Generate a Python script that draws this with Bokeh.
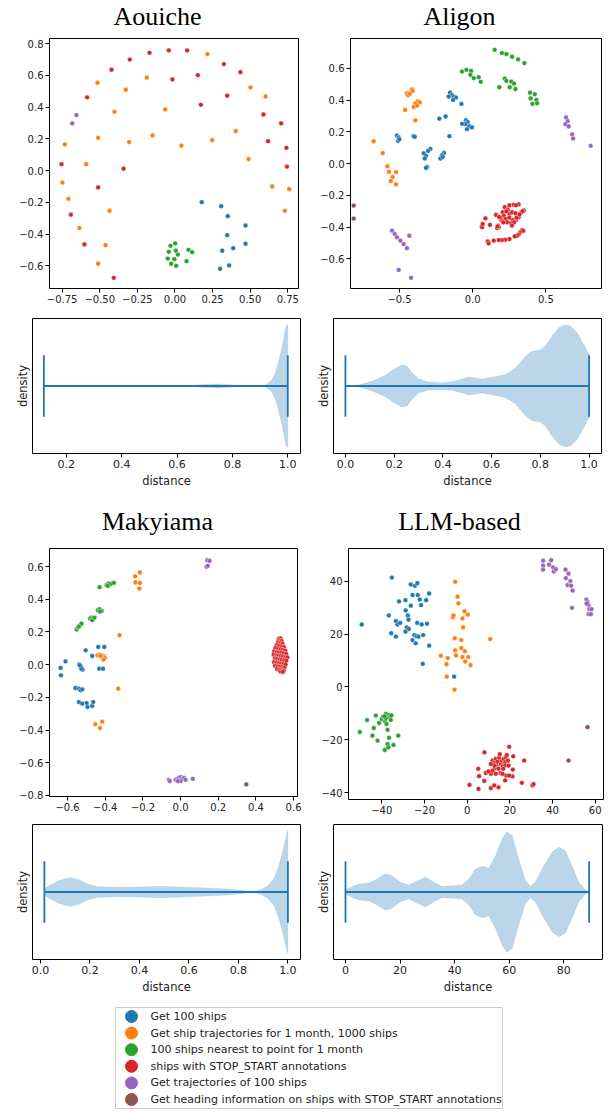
from bokeh.plotting import figure
from bokeh.layouts import column, row
from bokeh.models import FixedTicker, Range1d, ColumnDataSource
from bokeh.core.properties import value
from bokeh.embed import file_html
from bokeh.resources import INLINE

TITLES_TOP = ["Aouiche", "Aligon"]
TITLES_BOTTOM = ["Makyiama", "LLM-based"]
CATEGORIES = [
    "Get 100 ships",
    "Get ship trajectories for 1 month, 1000 ships",
    "100 ships nearest to point for 1 month",
    "ships with STOP_START annotations",
    "Get trajectories of 100 ships",
    "Get heading information on ships with STOP_START annotations",
]
COLORS = ["#1f77b4", "#ff7f0e", "#2ca02c", "#d62728", "#9467bd", "#8c564b"]

# ---------------- Aouiche ----------------
aouiche_blue = [(0.178, -0.199), (0.307, -0.224), (0.351, -0.287), (0.469, -0.346), (0.347, -0.407),
                (0.469, -0.461), (0.387, -0.489), (0.314, -0.505), (0.300, -0.619), (0.360, -0.598)]
aouiche_orange = [(0.216, 0.735), (-0.515, 0.554), (-0.187, 0.586), (-0.327, 0.510), (0.502, 0.525),
                  (-0.402, 0.371), (-0.065, 0.386), (0.602, 0.468), (0.404, 0.249), (-0.511, 0.207),
                  (-0.149, 0.222), (-0.305, 0.180), (0.247, 0.192), (0.043, 0.157), (-0.732, 0.165),
                  (0.489, 0.073), (-0.590, 0.041), (-0.748, -0.075), (0.646, -0.100), (0.759, -0.117),
                  (-0.708, -0.178), (-0.435, -0.253), (0.730, -0.253), (-0.635, -0.362), (-0.462, -0.470),
                  (-0.511, -0.587)]
aouiche_green = [(0.001, -0.459), (-0.030, -0.474), (0.006, -0.505), (-0.041, -0.512), (0.090, -0.499),
                 (0.114, -0.514), (0.019, -0.529), (-0.048, -0.554), (-0.004, -0.558), (0.077, -0.571),
                 (-0.025, -0.587), (0.008, -0.600)]
aouiche_red = [(-0.169, 0.743), (-0.041, 0.758), (0.081, 0.758), (-0.300, 0.700), (-0.422, 0.636),
               (0.325, 0.672), (0.435, 0.621), (-0.017, 0.575), (0.152, 0.602), (-0.584, 0.462),
               (0.347, 0.472), (0.172, 0.415), (0.588, 0.354), (0.706, 0.298), (0.619, 0.186),
               (0.741, 0.144), (-0.754, 0.041), (-0.342, 0.012), (0.744, 0.025), (-0.511, -0.106),
               (-0.692, -0.278), (-0.602, -0.465), (-0.407, -0.676)]
aouiche_purple = [(-0.655, 0.350), (-0.683, 0.298)]
aouiche_brown = []

# ---------------- Aligon ----------------
aligon_blue = [(-0.155, 0.447), (-0.141, 0.432), (-0.164, 0.422), (-0.128, 0.422), (-0.114, 0.416),
               (-0.134, 0.401), (-0.077, 0.376), (-0.228, 0.283), (-0.185, 0.297), (-0.159, 0.173),
               (-0.517, 0.177), (-0.506, 0.165), (-0.510, 0.143), (-0.501, 0.154), (-0.405, 0.173),
               (-0.396, 0.169), (-0.046, 0.274), (-0.034, 0.262), (-0.050, 0.249), (-0.073, 0.251),
               (-0.023, 0.236), (-0.005, 0.228), (-0.039, 0.217), (-0.289, 0.093), (-0.305, 0.080),
               (-0.335, 0.065), (-0.319, 0.049), (-0.328, 0.032), (-0.312, -0.021), (-0.319, -0.027),
               (-0.196, 0.067), (-0.210, 0.053), (-0.221, 0.032), (-0.205, 0.042)]
aligon_orange = [(-0.415, 0.468), (-0.410, 0.458), (-0.451, 0.443), (-0.442, 0.430), (-0.430, 0.440),
                 (-0.462, 0.338), (-0.376, 0.392), (-0.362, 0.386), (-0.392, 0.380), (-0.403, 0.357),
                 (-0.380, 0.365), (-0.392, 0.272), (-0.677, 0.141), (-0.615, 0.066), (-0.583, -0.017),
                 (-0.572, -0.051), (-0.524, -0.053), (-0.547, -0.084), (-0.560, -0.110), (-0.524, -0.131)]
aligon_green = [(0.150, 0.717), (0.200, 0.696), (0.230, 0.690), (0.269, 0.673), (0.310, 0.656),
                (0.353, 0.633), (-0.073, 0.580), (-0.043, 0.591), (-0.011, 0.584), (-0.016, 0.559),
                (0.007, 0.538), (0.041, 0.544), (0.055, 0.515), (0.219, 0.536), (0.230, 0.521),
                (0.264, 0.517), (0.282, 0.504), (0.182, 0.481), (0.253, 0.481), (0.292, 0.470),
                (0.392, 0.447), (0.424, 0.437), (0.396, 0.411), (0.435, 0.401), (0.408, 0.376),
                (0.440, 0.380)]
aligon_red = [(0.087, -0.344), (0.064, -0.390), (0.064, -0.401), (0.068, -0.380), (0.118, -0.386),
              (0.159, -0.323), (0.173, -0.390), (0.178, -0.401), (0.166, -0.405), (0.170, -0.395),
              (0.189, -0.348), (0.205, -0.306), (0.219, -0.274), (0.251, -0.262), (0.280, -0.259),
              (0.314, -0.257), (0.296, -0.262), (0.212, -0.327), (0.223, -0.348), (0.235, -0.369),
              (0.251, -0.316), (0.269, -0.306), (0.292, -0.312), (0.273, -0.354), (0.296, -0.354),
              (0.314, -0.338), (0.333, -0.306), (0.349, -0.295), (0.340, -0.300), (0.337, -0.418),
              (0.326, -0.432), (0.314, -0.447), (0.303, -0.454), (0.287, -0.458), (0.251, -0.475),
              (0.223, -0.479), (0.200, -0.481), (0.178, -0.481), (0.144, -0.485), (0.103, -0.489),
              (0.109, -0.502), (0.346, -0.423), (0.262, -0.375), (0.283, -0.370), (0.268, -0.390),
              (0.200, -0.360), (0.190, -0.340), (0.240, -0.290), (0.230, -0.300), (0.180, -0.335),
              (0.300, -0.340), (0.320, -0.320), (0.210, -0.370), (0.250, -0.340)]
aligon_purple = [(0.638, 0.291), (0.649, 0.268), (0.633, 0.249), (0.656, 0.234), (0.679, 0.184),
                 (0.686, 0.158), (0.806, 0.112), (-0.551, -0.422), (-0.533, -0.443), (-0.517, -0.464),
                 (-0.494, -0.485), (-0.472, -0.506), (-0.449, -0.532), (-0.433, -0.454), (-0.506, -0.669),
                 (-0.421, -0.719)]
aligon_brown = [(-0.813, -0.264), (-0.813, -0.346)]

# ---------------- Makyiama ----------------
makyiama_blue = [(-0.637, -0.020), (-0.635, -0.065), (-0.611, 0.020), (-0.504, 0.088), (-0.469, 0.053),
                 (-0.437, 0.108), (-0.405, 0.108), (-0.432, -0.025), (-0.412, -0.025), (-0.538, 0.002),
                 (-0.531, -0.010), (-0.526, -0.018), (-0.520, -0.031), (-0.527, -0.025), (-0.535, -0.004),
                 (-0.558, -0.143), (-0.540, -0.147), (-0.531, -0.157), (-0.522, -0.151), (-0.540, -0.229),
                 (-0.522, -0.239), (-0.499, -0.235), (-0.494, -0.259), (-0.469, -0.253), (-0.464, -0.229)]
makyiama_orange = [(-0.241, 0.541), (-0.216, 0.564), (-0.239, 0.503), (-0.216, 0.500), (-0.219, 0.466),
                   (-0.324, 0.180), (-0.442, 0.057), (-0.430, 0.061), (-0.418, 0.057), (-0.407, 0.051),
                   (-0.402, 0.041), (-0.409, 0.031), (-0.425, 0.053), (-0.331, -0.147), (-0.453, -0.364),
                   (-0.416, -0.349), (-0.428, -0.388)]
makyiama_green = [(-0.552, 0.215), (-0.545, 0.227), (-0.535, 0.241), (-0.526, 0.251), (-0.540, 0.233),
                  (-0.481, 0.282), (-0.474, 0.288), (-0.464, 0.284), (-0.469, 0.272), (-0.457, 0.288),
                  (-0.439, 0.333), (-0.430, 0.339), (-0.419, 0.329), (-0.428, 0.325), (-0.430, 0.474),
                  (-0.393, 0.486), (-0.382, 0.496), (-0.370, 0.494), (-0.354, 0.501), (-0.386, 0.482)]
makyiama_red = [(0.521, 0.158), (0.530, 0.161), (0.526, 0.147), (0.537, 0.144), (0.517, 0.136),
                (0.529, 0.131), (0.541, 0.127), (0.511, 0.119), (0.523, 0.114), (0.537, 0.111),
                (0.549, 0.107), (0.504, 0.101), (0.518, 0.096), (0.531, 0.093), (0.543, 0.091),
                (0.556, 0.086), (0.497, 0.081), (0.511, 0.077), (0.521, 0.074), (0.535, 0.073),
                (0.547, 0.069), (0.561, 0.066), (0.494, 0.061), (0.508, 0.056), (0.519, 0.054),
                (0.532, 0.051), (0.544, 0.049), (0.557, 0.046), (0.567, 0.044), (0.501, 0.039),
                (0.512, 0.034), (0.525, 0.031), (0.537, 0.029), (0.549, 0.026), (0.561, 0.024),
                (0.496, 0.016), (0.509, 0.011), (0.522, 0.009), (0.534, 0.006), (0.546, 0.004),
                (0.558, 0.001), (0.502, -0.007), (0.516, -0.011), (0.528, -0.012), (0.540, -0.016),
                (0.552, -0.019), (0.513, -0.027), (0.525, -0.031), (0.537, -0.032), (0.548, -0.036),
                (0.531, -0.042), (0.543, -0.044)]
makyiama_purple = [(0.142, 0.639), (0.154, 0.635), (0.138, 0.599), (0.145, 0.605), (-0.062, -0.705),
                   (-0.057, -0.713), (-0.027, -0.705), (-0.018, -0.699), (-0.009, -0.693), (0.000, -0.688),
                   (0.009, -0.699), (0.018, -0.693), (0.000, -0.713), (0.027, -0.705), (0.065, -0.699),
                   (-0.014, -0.713)]
makyiama_brown = [(0.349, -0.733)]

# ---------------- LLM-based ----------------
llm_blue = [(-49.4, 23.6), (-35.3, 41.3), (-36.7, 27.0), (-35.6, 20.3), (-33.4, 19.0), (-33.4, 24.9),
            (-32.7, 23.6), (-31.4, 24.2), (-31.9, 32.3), (-28.9, 32.8), (-28.8, 28.9), (-27.8, 27.0),
            (-27.5, 25.4), (-28.3, 22.5), (-27.3, 21.9), (-28.9, 20.9), (-26.4, 30.7), (-26.4, 38.7),
            (-25.6, 34.7), (-24.5, 38.2), (-23.3, 39.2), (-23.1, 34.7), (-22.2, 33.0), (-21.6, 30.9),
            (-23.4, 24.2), (-21.3, 23.6), (-19.2, 32.8), (-18.8, 23.9), (-17.8, 35.3), (-17.8, 15.6),
            (-24.8, 19.6), (-23.8, 19.2), (-25.6, 17.7), (-24.1, 16.5), (-22.8, 19.0), (-20.6, 19.6),
            (-20.8, 8.7), (-6.1, 3.9)]
llm_orange = [(-5.6, 39.7), (-4.5, 34.1), (-4.1, 31.6), (-6.7, 26.3), (-6.4, 27.0), (-2.2, 25.9),
              (-1.25, 28.6), (0.3, 27.3), (-1.9, 22.5), (-5.8, 18.4), (-2.7, 17.7), (10.8, 18.1),
              (-5.6, 13.8), (-5.2, 11.9), (-2.7, 14.7), (-1.1, 13.5), (-2.2, 11.3), (0.5, 11.3),
              (-0.9, 9.6), (1.6, 8.3), (-12.3, 11.8), (-9.1, 10.9), (-9.7, 8.6), (-9.5, 3.9), (-5.9, -1.0)]
llm_green = [(-50.3, -17.0), (-46.9, -12.5), (-43.75, -15.5), (-44.4, -18.4), (-42.8, -10.8),
             (-42.0, -20.3), (-41.25, -13.6), (-40.0, -12.1), (-39.4, -11.2), (-38.6, -23.8),
             (-38.4, -13.0), (-38.1, -10.2), (-37.8, -14.0), (-37.3, -16.2), (-36.9, -11.2),
             (-36.6, -10.6), (-36.1, -11.4), (-35.8, -12.5), (-37.3, -21.6), (-36.9, -22.8),
             (-36.6, -19.2), (-35.5, -10.7), (-34.5, -21.9), (-32.3, -18.4), (-38.1, -11.8),
             (-38.75, -11.1)]
llm_red = [(8.1, -24.7), (19.7, -22.6), (21.6, -26.2), (26.7, -27.8), (5.2, -30.9), (5.6, -33.7),
           (8.75, -32.5), (11.1, -32.8), (8.0, -35.5), (1.1, -37.0), (5.3, -38.5), (11.1, -38.2),
           (12.7, -37.2), (14.7, -37.9), (17.8, -35.3), (18.3, -33.5), (21.25, -33.8), (21.4, -31.2),
           (25.6, -36.2), (30.6, -37.2), (31.1, -36.7), (11.9, -27.8), (12.7, -28.7), (13.4, -27.2),
           (13.75, -29.7), (14.2, -28.2), (15.0, -26.7), (15.8, -29.1), (16.25, -27.8), (16.6, -30.1),
           (17.2, -27.2), (17.8, -28.4), (18.1, -26.5), (18.6, -25.7), (17.7, -29.7), (13.0, -30.7),
           (14.7, -30.9), (15.6, -32.5), (13.4, -32.8), (16.6, -32.8), (11.9, -31.6), (10.0, -31.9),
           (19.4, -29.7), (19.7, -33.5), (16.9, -30.9), (12.7, -29.7), (11.1, -29.1), (15.3, -25.4),
           (19.1, -27.8)]
llm_purple = [(35.6, 47.7), (35.6, 45.8), (35.6, 44.3), (38.4, 46.2), (39.4, 47.9), (40.3, 45.2),
              (40.6, 43.6), (41.6, 44.5), (46.1, 44.3), (47.5, 42.8), (46.25, 41.1), (48.4, 40.0),
              (47.0, 38.5), (48.75, 38.2), (49.4, 36.4), (49.1, 29.9), (55.9, 33.0), (56.4, 32.0),
              (56.9, 30.9), (57.3, 29.4), (58.3, 29.4), (56.9, 27.5), (58.0, 27.5), (56.0, 31.5)]
llm_brown = [(56.4, -15.2), (47.5, -27.8)]

# ---------------- tick labels ----------------
aouiche_xticks = [-0.75, -0.5, -0.25, 0.0, 0.25, 0.5, 0.75]
aouiche_xlabels = ["\u22120.75", "\u22120.50", "\u22120.25", "0.00", "0.25", "0.50", "0.75"]
aouiche_yticks = [-0.6, -0.4, -0.2, 0.0, 0.2, 0.4, 0.6, 0.8]
aouiche_ylabels = ["\u22120.6", "\u22120.4", "\u22120.2", "0.0", "0.2", "0.4", "0.6", "0.8"]
aligon_xticks = [-0.5, 0.0, 0.5]
aligon_xlabels = ["\u22120.5", "0.0", "0.5"]
aligon_yticks = [-0.6, -0.4, -0.2, 0.0, 0.2, 0.4, 0.6]
aligon_ylabels = ["\u22120.6", "\u22120.4", "\u22120.2", "0.0", "0.2", "0.4", "0.6"]
makyiama_xticks = [-0.6, -0.4, -0.2, 0.0, 0.2, 0.4, 0.6]
makyiama_xlabels = ["\u22120.6", "\u22120.4", "\u22120.2", "0.0", "0.2", "0.4", "0.6"]
makyiama_yticks = [-0.8, -0.6, -0.4, -0.2, 0.0, 0.2, 0.4, 0.6]
makyiama_ylabels = ["\u22120.8", "\u22120.6", "\u22120.4", "\u22120.2", "0.0", "0.2", "0.4", "0.6"]
llm_xticks = [-40, -20, 0, 20, 40, 60]
llm_xlabels = ["\u221240", "\u221220", "0", "20", "40", "60"]
llm_yticks = [-40, -20, 0, 20, 40]
llm_ylabels = ["\u221240", "\u221220", "0", "20", "40"]
unit_ticks = [0.0, 0.2, 0.4, 0.6, 0.8, 1.0]
unit_labels = ["0.0", "0.2", "0.4", "0.6", "0.8", "1.0"]
aouiche_vticks = [0.2, 0.4, 0.6, 0.8, 1.0]
aouiche_vlabels = ["0.2", "0.4", "0.6", "0.8", "1.0"]
llm_vticks = [0, 20, 40, 60, 80]
llm_vlabels = ["0", "20", "40", "60", "80"]

# ---------------- violin profiles (distance, relative half-width) ----------------
aouiche_vdist = [0.119, 0.204, 0.240, 0.276, 0.384, 0.625, 0.685, 0.745, 0.805, 0.901, 0.919, 0.931,
                 0.943, 0.955, 0.967, 0.980, 0.989, 0.995, 1.0]
aouiche_vwidth = [0.004, 0.005, 0.011, 0.005, 0.003, 0.005, 0.022, 0.033, 0.016, 0.005, 0.016, 0.049,
                  0.104, 0.213, 0.404, 0.65, 0.87, 0.98, 1.0]
aligon_vdist = [0.0, 0.055, 0.109, 0.164, 0.198, 0.226, 0.239, 0.253, 0.274, 0.301, 0.342, 0.397, 0.438,
                0.479, 0.506, 0.534, 0.561, 0.602, 0.657, 0.698, 0.739, 0.766, 0.8, 0.821, 0.848, 0.876,
                0.9, 0.923, 0.951, 0.978, 1.0]
aligon_vwidth = [0.005, 0.016, 0.077, 0.175, 0.268, 0.333, 0.344, 0.322, 0.213, 0.115, 0.066, 0.055,
                 0.071, 0.115, 0.148, 0.131, 0.115, 0.142, 0.186, 0.295, 0.486, 0.568, 0.585, 0.65,
                 0.814, 0.951, 0.995, 0.978, 0.869, 0.678, 0.514]
makyiama_vdist = [0.016, 0.040, 0.074, 0.108, 0.128, 0.155, 0.189, 0.229, 0.310, 0.404, 0.485, 0.539,
                  0.647, 0.755, 0.836, 0.863, 0.889, 0.916, 0.943, 0.964, 0.981, 0.995, 1.0]
makyiama_vwidth = [0.049, 0.114, 0.185, 0.223, 0.228, 0.201, 0.13, 0.087, 0.076, 0.082, 0.092, 0.087,
                   0.071, 0.049, 0.016, 0.011, 0.038, 0.092, 0.212, 0.43, 0.70, 0.946, 1.0]
llm_vdist = [0.0, 2.44, 4.89, 8.55, 11.6, 14.66, 17.1, 20.15, 23.2, 26.26, 29.3, 32.4, 35.4, 39.1,
             42.75, 45.2, 47.6, 50.1, 52.5, 55.0, 57.4, 59.2, 61.1, 63.5, 65.95, 67.8, 69.6, 72.06,
             75.7, 78.2, 80.6, 83.05, 85.5, 87.9, 89.3]
llm_vwidth = [0.038, 0.087, 0.13, 0.147, 0.212, 0.293, 0.266, 0.158, 0.114, 0.185, 0.239, 0.158, 0.092,
              0.103, 0.114, 0.212, 0.375, 0.418, 0.386, 0.592, 0.864, 0.984, 0.918, 0.538, 0.185, 0.092,
              0.158, 0.375, 0.647, 0.728, 0.674, 0.429, 0.158, 0.038, 0.005]

TICK_FONT = "DejaVu Sans"
PAGE_W = 611


def style(p, tick_size):
    p.outline_line_color = "black"
    p.outline_line_width = 1
    p.outline_line_alpha = 1
    p.xgrid.visible = False
    p.ygrid.visible = False
    p.background_fill_color = "white"
    for ax in (p.xaxis[0], p.yaxis[0]):
        ax.axis_line_color = None
        ax.major_tick_line_color = "black"
        ax.major_tick_out = 4
        ax.major_tick_in = 0
        ax.minor_tick_line_color = None
        ax.major_label_text_font = TICK_FONT
        ax.major_label_text_font_size = tick_size
        ax.major_label_text_color = "#222222"
        ax.major_label_standoff = 2


def title_strip(titles, height, middle_from_top):
    # a bare strip holding the two column titles (one per panel column)
    p = figure(frame_width=PAGE_W, frame_height=height, min_border=0, x_range=Range1d(0, PAGE_W),
               y_range=Range1d(height, 0), x_axis_location=None, y_axis_location=None,
               output_backend="svg", toolbar_location=None, tools="")
    p.grid.visible = False
    p.outline_line_color = None
    centers = [157, 459]
    p.text(x=centers, y=[middle_from_top] * len(titles), text=titles,
           text_font=value("Liberation Serif"), text_font_size="26px", text_align="center",
           text_baseline="middle", text_color="black")
    return row(p)


def scatter_panel(groups, xr, yr, xt, xl, yt, yl, fw, fh, bl, br, bt, bb):
    p = figure(frame_width=fw, frame_height=fh, min_border_left=bl, min_border_right=br,
               min_border_top=bt, min_border_bottom=bb, x_range=Range1d(*xr), y_range=Range1d(*yr),
               output_backend="svg", toolbar_location=None, tools="")
    style(p, "10px")
    p.xaxis.ticker = FixedTicker(ticks=xt)
    p.xaxis.major_label_overrides = dict(zip(xt, xl))
    p.yaxis.ticker = FixedTicker(ticks=yt)
    p.yaxis.major_label_overrides = dict(zip(yt, yl))
    for pts, col in zip(groups, COLORS):
        if not pts:
            continue
        p.scatter([a for a, b in pts], [b for a, b in pts], size=4.8, fill_color=col,
                  line_color="white", line_width=0.4)
    return p


def violin_panel(dist, width, xr, xt, xl, fw, bl, br, bt, bb):
    p = figure(frame_width=fw, frame_height=135, min_border_left=bl, min_border_right=br,
               min_border_top=bt, min_border_bottom=bb, x_range=Range1d(*xr), y_range=Range1d(-1.1, 1.1),
               output_backend="svg", toolbar_location=None, tools="")
    style(p, "11px")
    p.xaxis.ticker = FixedTicker(ticks=xt)
    p.xaxis.major_label_overrides = dict(zip(xt, xl))
    p.yaxis.ticker = FixedTicker(ticks=[])
    for ax, lab in ((p.xaxis[0], "distance"), (p.yaxis[0], "density")):
        ax.axis_label = lab
        ax.axis_label_text_font = TICK_FONT
        ax.axis_label_text_font_size = "11.5px"
        ax.axis_label_text_font_style = "normal"
        ax.axis_label_text_color = "#222222"
        ax.axis_label_standoff = 3
    xs = list(dist) + list(dist)[::-1]
    ys = list(width) + [-w for w in width][::-1]
    p.patch(xs, ys, fill_color="#1f77b4", fill_alpha=0.3, line_color="#1f77b4", line_alpha=0.1)
    lo, hi = dist[0], dist[-1]
    p.segment(x0=[lo, lo, hi], y0=[0, -0.5, -0.5], x1=[hi, lo, hi], y1=[0, 0.5, 0.5],
              line_color="#1f77b4", line_width=1.8)
    return p


t1 = title_strip(TITLES_TOP, 32, 16)
pA = scatter_panel([aouiche_blue, aouiche_orange, aouiche_green, aouiche_red, aouiche_purple, aouiche_brown],
                   (-0.834, 0.821), (-0.743, 0.833), aouiche_xticks, aouiche_xlabels,
                   aouiche_yticks, aouiche_ylabels, 249, 250, 49, 7, 6, 20)
pB = scatter_panel([aligon_blue, aligon_orange, aligon_green, aligon_red, aligon_purple, aligon_brown],
                   (-0.835, 0.880), (-0.786, 0.788), aligon_xticks, aligon_xlabels,
                   aligon_yticks, aligon_ylabels, 251, 250, 45, 10, 6, 20)
t2 = title_strip(TITLES_BOTTOM, 40, 21)
pC = scatter_panel([makyiama_blue, makyiama_orange, makyiama_green, makyiama_red, makyiama_purple,
                    makyiama_brown],
                   (-0.696, 0.621), (-0.807, 0.711), makyiama_xticks, makyiama_xlabels,
                   makyiama_yticks, makyiama_ylabels, 248, 248, 49, 8, 8, 20)
pD = scatter_panel([llm_blue, llm_orange, llm_green, llm_red, llm_purple, llm_brown],
                   (-55.6, 63.9), (-42.5, 52.3), llm_xticks, llm_xlabels,
                   llm_yticks, llm_ylabels, 255, 251, 43, 8, 3, 22)

vA = violin_panel(aouiche_vdist, aouiche_vwidth, (0.078, 1.046), aouiche_vticks, aouiche_vlabels,
                  268, 32, 5, 10, 47)
vB = violin_panel(aligon_vdist, aligon_vwidth, (-0.049, 1.051), unit_ticks, unit_labels,
                  268, 28, 10, 10, 47)
vC = violin_panel(makyiama_vdist, makyiama_vwidth, (-0.032, 1.051), unit_ticks, unit_labels,
                  268, 32, 5, 8, 41)
vD = violin_panel(llm_vdist, llm_vwidth, (-4.4, 94.2), llm_vticks, llm_vlabels,
                  269, 28, 9, 8, 41)

# legend panel: the frame itself is the legend box, one row per category
n = len(CATEGORIES)
pL = figure(frame_width=387, frame_height=101, min_border_left=115, min_border_right=109,
            min_border_top=7, min_border_bottom=2,
            x_range=Range1d(0, 387), y_range=Range1d(n - 1 + 0.542, -0.542),
            x_axis_location=None, y_axis_location=None, output_backend="svg",
            toolbar_location=None, tools="")
pL.grid.visible = False
pL.outline_line_color = "#cccccc"
pL.outline_line_width = 1
rows = list(range(n))
src = ColumnDataSource(dict(row=rows, label=CATEGORIES, color=COLORS))
pL.scatter(x=16, y="row", size=12, fill_color="color", line_color="color", source=src)
pL.text(x=35, y="row", text="label", source=src, text_font=value(TICK_FONT),
        text_font_size="11px", text_baseline="middle", text_align="left", text_color="#222222")

layout = column(t1, row(pA, pB), row(vA, vB), t2, row(pC, pD), row(vC, vD), row(pL))
open("out.html", "w").write(file_html(layout, INLINE))
